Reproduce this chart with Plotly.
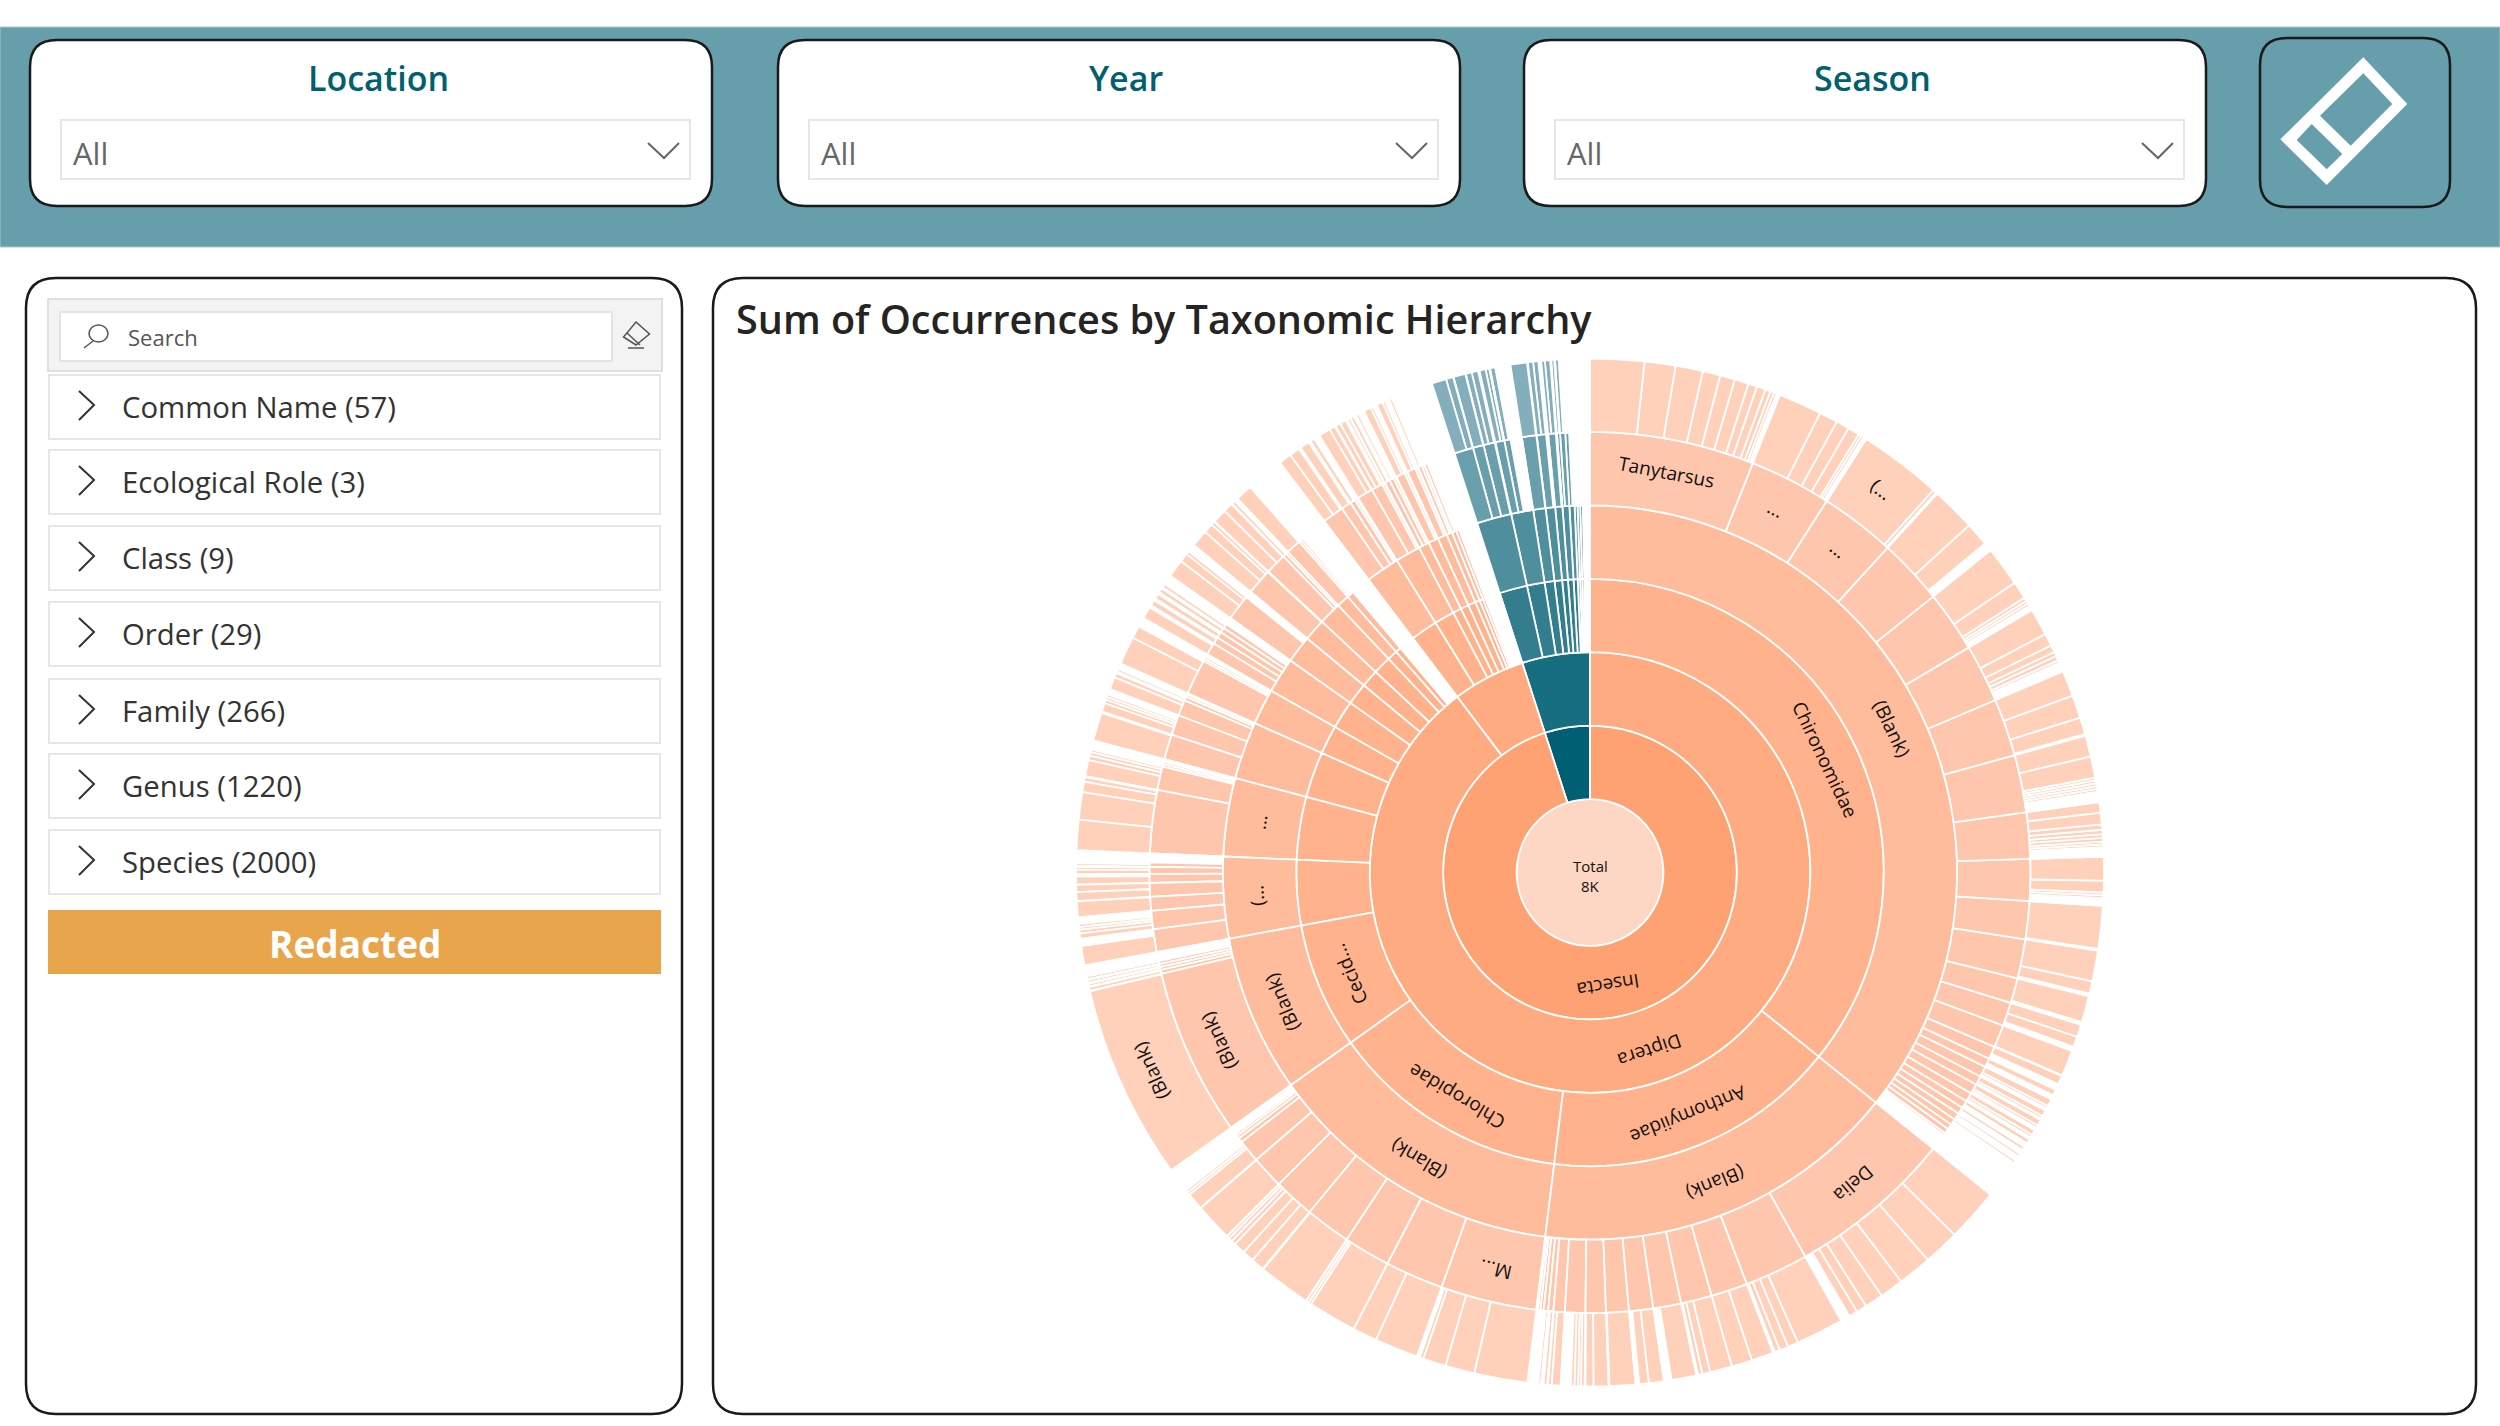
"""Taxonomic hierarchy report page: slicer header, field list and sunburst."""

import math

import plotly.graph_objects as go

WIDTH = 2500
HEIGHT = 1426

# Sunburst placement in page pixels
CX = 1590
CY = 872.5
RADIUS = 514

FILTER_TITLES = ["Location", "Year", "Season"]
FILTER_VALUE = "All"
FIELD_NAMES = [
    "Common Name (57)",
    "Ecological Role (3)",
    "Class (9)",
    "Order (29)",
    "Family (266)",
    "Genus (1220)",
    "Species (2000)",
]
CHART_TITLE = "Sum of Occurrences by Taxonomic Hierarchy"
ROOT_LABEL = "Total"
ROOT_VALUE_TEXT = "8K"
ROOT_VALUE = 7920

# Occurrences per node, ring by ring. Each inner list holds the children of one
# node of the ring before it, clockwise from 12 o'clock. Children can sum to less
# than the parent, the rest being tail taxa too thin to see.
CLASS_VALUES = [[7526, 394]]
ORDER_VALUES = [[7104, 422], [394]]
FAMILY_VALUES = [
    [2834, 1280, 1047, 550, 284, 273, 200, 125, 123, 95, 77, 79, 44, 24],
    [117, 88, 37, 35, 33, 20, 15, 11],
    [121, 77, 43, 33, 25, 24, 18, 10, 9, 9],
]
GENUS_VALUES = [
    # Diptera
    [477, 238, 220, 191, 178, 169, 167, 167, 134, 121, 110, 114, 73, 68, 66, 37, 26, 31, 26, 29, 26, 22, 20, 20, 18, 15, 15, 7],
    [482, 185, 106, 90, 81, 70, 66, 59, 59, 33, 15, 13, 9, 7],
    [279, 169, 136, 132, 119, 95, 66, 13, 9, 7],
    [486, 11, 9, 9, 9, 4, 2],
    [66, 53, 40, 40, 26, 20, 13, 4],
    [183, 68, 7, 7, 4, 2],
    [73, 59, 46, 11, 7, 2],
    [103, 7, 7, 4],
    [36, 20, 18, 15, 13],
    [75, 4, 4, 4, 4],
    [75],
    [61, 11, 7],
    [44],
    [7, 7, 4, 2],
    # second order
    [62, 29, 15, 7],
    [46, 33, 7],
    [15, 13, 7],
    [26, 7],
    [24, 7],
    [11, 7],
    [9, 4],
    [4, 4, 2],
    # teal class
    [55, 31, 33],
    [26, 18, 4, 2],
    [42],
    [27, 2, 2],
    [22, 2],
    [9, 15],
    [11, 4],
    [2],
    [4, 2],
    [2],
]
SPECIES_VALUES = [
    # Chironomidae
    [134, 77, 68, 44, 37, 35, 22, 22, 13, 9, 7, 2, 2],
    [108, 46, 33, 29, 7, 7, 3],
    [207, 9],
    [110, 59, 4, 2, 2],
    [99, 44, 9, 7, 7, 4],
    [68, 31, 18, 11, 11, 7, 2],
    [64, 57, 42],
    [53, 53, 7, 7, 7, 7, 7, 4, 4, 2, 2, 2, 2, 2],
    [26, 29, 13, 11, 9, 9, 7, 7, 4, 2, 2],
    [59, 29, 7, 7, 4, 4, 2],
    [106],
    [77, 31],
    [66],
    [31, 26, 4, 2, 2],
    [64],
    [22, 4, 4, 2],
    [15, 4, 2, 2],
    [18, 7, 2],
    [15, 7, 2],
    [15, 7, 2],
    [13, 7, 2, 2],
    [11, 4, 2],
    [9, 4, 2, 2],
    [7, 4, 2, 2],
    [7, 2, 2, 2],
    [4, 2, 2],
    [2, 2, 2],
    [2],
    # Anthomyiidae
    [132, 90, 84, 59, 46, 26, 22, 2, 2],
    [119, 26, 22, 13, 2],
    [55, 51],
    [55, 20, 11, 2],
    [62, 2, 2],
    [37, 24],
    [64],
    [37, 20],
    [9, 7, 9, 9, 4],
    [22, 9],
    [9, 4],
    [7, 4],
    [4, 2],
    [2, 2],
    # Chloropidae
    [132, 73, 57, 9],
    [108, 61],
    [121, 7, 7],
    [130],
    [33, 29, 29, 11, 9, 7],
    [94],
    [42, 7, 7, 4, 2, 2],
    [4, 4, 2],
    [4, 2],
    [2],
    # Cecid...
    [485],
    [9],
    [7],
    [7],
    [7],
    [2],
    [2],
    # remaining Diptera families
    [48],
    [13, 9, 7, 7, 4, 2],
    [39],
    [22, 18],
    [20, 4],
    [11, 7],
    [7, 4],
    [2],
    [75, 68, 26, 11],
    [40, 11, 9, 7],
    [4],
    [4],
    [2],
    [2],
    [70],
    [22, 9, 7, 7, 4, 4, 2],
    [31, 11],
    [7],
    [4],
    [2],
    [70, 31],
    [4],
    [4],
    [2],
    [30, 4],
    [15, 4],
    [13, 4],
    [11, 2],
    [9, 2],
    [44, 22, 9],
    [2],
    [2],
    [2],
    [2],
    [42, 24, 9],
    [35, 24],
    [9],
    [4],
    [42],
    [4],
    [4],
    [2],
    [2],
    # second order
    [31, 26, 2],
    [24, 2],
    [11, 2],
    [2, 2],
    [29, 15],
    [13, 15],
    [7],
    [9, 4],
    [7, 4],
    [4],
    [18, 7],
    [4],
    [15, 7],
    [2],
    [7, 2],
    [4],
    [4, 2],
    [2],
    [2],
    [2],
    [2],
    # teal class
    [36, 18],
    [30],
    [15, 16],
    [15, 9],
    [13, 4],
    [2],
    [2],
    [41],
    [13, 13],
    [2],
    [2],
    [9, 13],
    [2],
    [7],
    [9, 4],
    [4, 2],
    [2],
    [2],
    [2],
    [2],
    [2],
]

# Visible labels, by position within each ring
CLASS_NAMES = {0: "Insecta"}
ORDER_NAMES = {0: "Diptera"}
FAMILY_NAMES = {0: "Chironomidae", 1: "Anthomyiidae", 2: "Chloropidae", 3: "Cecid..."}
SUBFAMILY_NAMES = {0: "(Blank)", 1: "(Blank)", 2: "(Blank)", 3: "(Blank)", 4: "(...", 5: "..."}
GENUS_NAMES = {0: "Tanytarsus", 1: "...", 2: "...", 28: "Delia", 42: "M...", 52: "(Blank)"}
SPECIES_NAMES = {20: "(...", 200: "(Blank)"}

# Colours per ring, root first
ORANGE_RINGS = ["#fdd6c4", "#ffa273", "#ffab82", "#ffb28c", "#ffbc9c", "#fec6ac", "#ffd0ba"]
TEAL_RINGS = ["#fdd6c4", "#005f73", "#176e80", "#337d8e", "#4e8e9d", "#699fac", "#84aebb"]

TEAL = "#669eac"
DARK_TEAL = "#00606f"
OUTLINE = "#1a1a1a"
BOX_LINE = "#e6e6e6"
TEXT_GREY = "#666666"
TEXT_DARK = "#333333"
FONT = "Open Sans"


def px(x):
    return x / WIDTH


def py(y):
    return 1 - y / HEIGHT


def path_from(points, close=True):
    parts = [f"{'M' if i == 0 else 'L'}{px(x):.5f},{py(y):.5f}" for i, (x, y) in enumerate(points)]
    return " ".join(parts) + (" Z" if close else "")


def rounded_box(x0, y0, x1, y1, r):
    """SVG path for a rounded rectangle, in paper coordinates."""
    p = lambda x, y: f"{px(x):.5f},{py(y):.5f}"
    return (
        f"M{p(x0 + r, y0)} L{p(x1 - r, y0)} Q{p(x1, y0)} {p(x1, y0 + r)} "
        f"L{p(x1, y1 - r)} Q{p(x1, y1)} {p(x1 - r, y1)} "
        f"L{p(x0 + r, y1)} Q{p(x0, y1)} {p(x0, y1 - r)} "
        f"L{p(x0, y0 + r)} Q{p(x0, y0)} {p(x0 + r, y0)} Z"
    )


def add_box(fig, x0, y0, x1, y1, fill="white", line=BOX_LINE, width=2):
    fig.add_shape(
        type="rect", xref="paper", yref="paper", layer="below",
        x0=px(x0), x1=px(x1), y0=py(y1), y1=py(y0),
        fillcolor=fill, line=dict(color=line, width=width),
    )


def add_path(fig, path, fill="rgba(0,0,0,0)", line=OUTLINE, width=2.5):
    fig.add_shape(
        type="path", xref="paper", yref="paper", layer="below", path=path,
        fillcolor=fill, line=dict(color=line, width=width),
    )


def add_text(fig, x, y, text, size, color, anchor="left", weight=400, angle=0):
    fig.add_annotation(
        xref="paper", yref="paper", x=px(x), y=py(y), text=text, showarrow=False,
        xanchor=anchor, yanchor="middle", textangle=angle,
        font=dict(family=FONT, size=size, color=color, weight=weight),
        borderpad=0,
    )


def build_nodes():
    """Flatten the ring lists into the id/parent/value columns of the trace."""
    ids = ["root"]
    parents = [""]
    values = [ROOT_VALUE]
    labels = [ROOT_LABEL]
    rings = [0]
    branch = [0]

    ring_groups = [CLASS_VALUES, ORDER_VALUES, FAMILY_VALUES, None, GENUS_VALUES, SPECIES_VALUES]
    ring_names = [CLASS_NAMES, ORDER_NAMES, FAMILY_NAMES, SUBFAMILY_NAMES, GENUS_NAMES, SPECIES_NAMES]

    previous = [0]
    for ring, (groups, names) in enumerate(zip(ring_groups, ring_names), start=1):
        if groups is None:
            # every family holds exactly one subfamily
            groups = [[values[i]] for i in previous]
        if len(groups) != len(previous):
            raise ValueError(f"ring {ring}: {len(groups)} groups for {len(previous)} parents")
        current = []
        for parent, group in zip(previous, groups):
            for value in group:
                position = len(current)
                node = len(ids)
                ids.append(f"r{ring}-{position}")
                parents.append(ids[parent])
                values.append(value)
                labels.append(names.get(position, ""))
                rings.append(ring)
                # second class on the first ring is the highlighted teal branch
                branch.append(position if ring == 1 else branch[parent])
                current.append(node)
        previous = current

    # a parent must never be smaller than its children
    index = {name: i for i, name in enumerate(ids)}
    totals = [0] * len(ids)
    for i in range(len(ids) - 1, 0, -1):
        values[i] = max(values[i], totals[i])
        totals[index[parents[i]]] += values[i]
    values[0] = max(values[0], totals[0])

    return ids, parents, values, labels, rings, branch, totals


def add_sector_labels(fig, ids, parents, values, labels, rings):
    """Sector text runs along the ring, upside down on the lower half."""
    index = {name: i for i, name in enumerate(ids)}
    start = [0.0] * len(ids)
    used = [0.0] * len(ids)
    ring_width = RADIUS / 7
    for i in range(1, len(ids)):
        parent = index[parents[i]]
        start[i] = start[parent] + used[parent]
        used[parent] += values[i]
        if not labels[i]:
            continue
        angle = (start[i] + values[i] / 2) / values[0] * 360
        r = (rings[i] + 0.5) * ring_width + 4
        add_text(
            fig,
            CX + r * math.sin(math.radians(angle)),
            CY - r * math.cos(math.radians(angle)),
            labels[i], 19, "#111111", anchor="center", angle=angle,
        )


ids, parents, values, labels, rings, branch, totals = build_nodes()
colors = [
    (TEAL_RINGS if b == 1 else ORANGE_RINGS)[ring] for ring, b in zip(rings, branch)
]

# The tail of each parent is drawn as one white sliver after its last child.
# Only nodes that have children at all get one, bare leaves keep the full arc.
for i in range(len(values)):
    if totals[i] and values[i] > totals[i]:
        ids.append(f"{ids[i]}-tail")
        parents.append(ids[i])
        values.append(values[i] - totals[i])
        labels.append("")
        rings.append(rings[i] + 1)
        branch.append(branch[i])
        colors.append("white")

fig = go.Figure()

add_sector_labels(fig, ids, parents, values, labels, rings)

# Plotly lays sectors out counterclockwise, so hand them over in reverse and
# start at 12 o'clock to get the clockwise order of the report.
fig.add_trace(
    go.Sunburst(
        ids=ids[::-1],
        parents=parents[::-1],
        values=values[::-1],
        labels=labels[::-1],
        branchvalues="total",
        sort=False,
        rotation=90,
        textinfo="none",
        hoverinfo="label+value",
        leaf=dict(opacity=1),
        marker=dict(colors=colors[::-1], line=dict(color="white", width=1.8)),
        domain=dict(
            x=[px(CX - RADIUS), px(CX + RADIUS)],
            y=[py(CY + RADIUS), py(CY - RADIUS)],
        ),
    )
)

# Header band with the three slicers and the clear button
add_box(fig, 0, 27, WIDTH, 247, fill=TEAL, line="#a8c8d0", width=1)
card_left = [30, 778, 1524]
for i, title in enumerate(FILTER_TITLES):
    left = card_left[i]
    add_path(fig, rounded_box(left, 40, left + 682, 206, 27), fill="white", width=2.5)
    add_box(fig, left + 31, 120, left + 660, 179)
    add_text(fig, left + 348, 78, title, 34, DARK_TEAL, anchor="center", weight=600)
    add_text(fig, left + 42, 153, FILTER_VALUE, 31, TEXT_GREY)
    add_path(
        fig,
        path_from([(left + 618, 143), (left + 634, 158), (left + 649, 143)], close=False),
        line=TEXT_GREY, width=2,
    )

add_path(fig, rounded_box(2260, 38, 2450, 207, 27), fill=TEAL, width=2.5)
eraser = " ".join(
    path_from(points)
    for points in [
        [(2363.3, 57.3), (2407.3, 104), (2326.7, 185), (2280.3, 139.3)],
        [(2363.3, 73.3), (2392.3, 104), (2350.7, 145.7), (2320, 115.7)],
        [(2311.7, 124), (2342.3, 154), (2326.7, 169.3), (2296.7, 140)],
    ]
)
add_path(fig, eraser, fill="white", line="white", width=0)

# Field list panel
add_path(fig, rounded_box(26, 278, 682, 1414, 30), fill="white", width=2.5)
add_box(fig, 48, 299, 662, 371, fill="#f3f3f3", line="#e0e0e0")
add_box(fig, 60, 312, 612, 361, fill="white", line="#e3e3e3")
add_text(fig, 127, 337, "Search", 22, "#555555")
fig.add_shape(
    type="circle", xref="paper", yref="paper", layer="below",
    x0=px(89), x1=px(108), y0=py(342), y1=py(325), line=dict(color="#555555", width=1.5),
)
add_path(fig, path_from([(93, 341), (84, 348)], close=False), line="#555555", width=1.5)
add_path(fig, path_from([(636, 322), (649.5, 334), (636, 345), (623.5, 337)]), line="#555555", width=1.5)
add_path(fig, path_from([(627, 333), (640, 345)], close=False), line="#555555", width=1.5)
add_path(fig, path_from([(628, 348), (644, 348)], close=False), line="#555555", width=1.5)

row_top = [375, 450, 526, 602, 679, 754, 830]
for top, name in zip(row_top, FIELD_NAMES):
    add_box(fig, 49, top, 660, top + 64)
    add_path(
        fig,
        path_from([(79, top + 16), (94, top + 30), (79, top + 45)], close=False),
        line="#333333", width=2,
    )
    add_text(fig, 121, top + 32, name, 29.3, TEXT_DARK)

add_box(fig, 48, 910, 661, 974, fill="#e8a54b", line="#e8a54b", width=0)
add_text(fig, 355, 943, "Redacted", 37, "white", anchor="center", weight=700)

# Chart panel
add_path(fig, rounded_box(713, 278, 2476, 1414, 30), fill="rgba(255,255,255,0)", width=2.5)
add_text(fig, 735, 319, CHART_TITLE, 39.6, "#252423", weight=600)

add_text(fig, CX, 866, ROOT_LABEL, 15, "#111111", anchor="center")
add_text(fig, CX, 886, ROOT_VALUE_TEXT, 15, "#111111", anchor="center")

fig.update_layout(
    width=WIDTH,
    height=HEIGHT,
    margin=dict(l=0, r=0, t=0, b=0, pad=0),
    paper_bgcolor="white",
    plot_bgcolor="white",
    showlegend=False,
)

fig.write_html(
    "out.html",
    config={"displayModeBar": False},
    post_script="document.body.style.margin = '0';",
)
